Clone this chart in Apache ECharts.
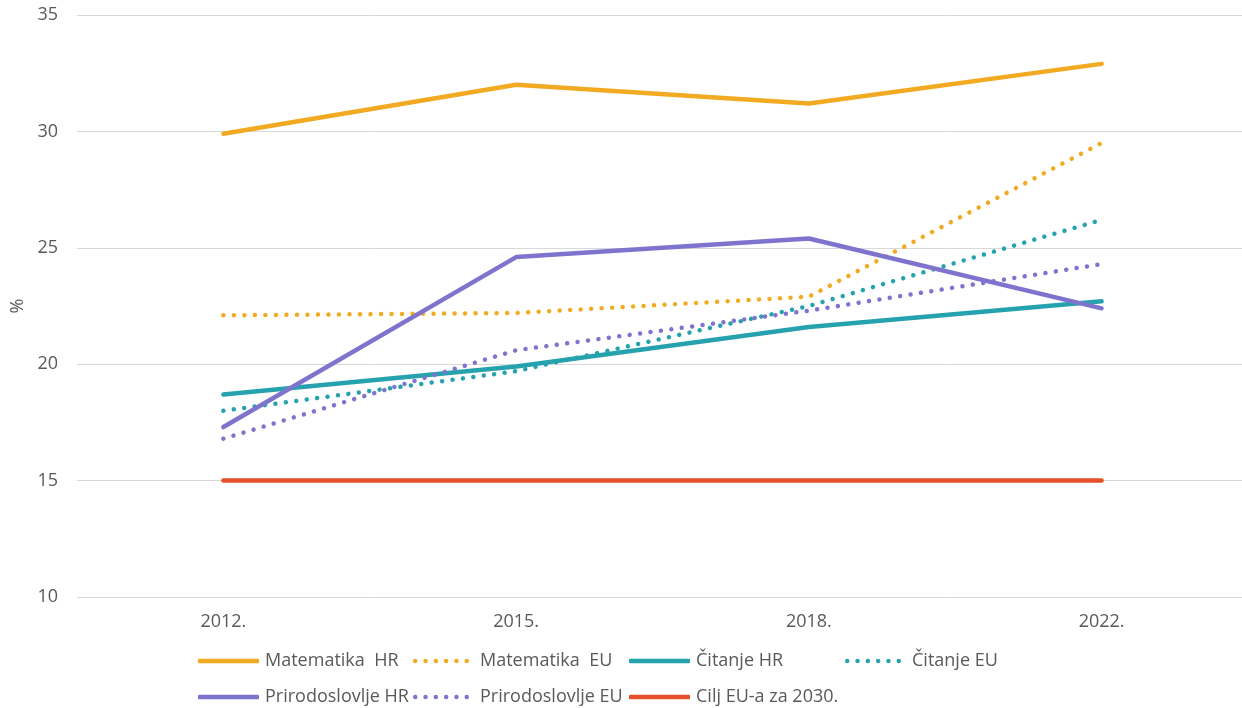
<!DOCTYPE html>
<html>
<head>
<meta charset="utf-8">
<script src="https://cdn.jsdelivr.net/npm/echarts@6/dist/echarts.min.js"></script>
<style>html,body{margin:0;padding:0;background:#fff;overflow:hidden}#c{width:1242px;height:708px}</style>
</head>
<body>
<div id="c"></div>
<script>
const categories = ['2012.', '2015.', '2018.', '2022.'];
const matematikaHR = [29.9, 32.0, 31.2, 32.9];
const matematikaEU = [22.1, 22.2, 22.9, 29.5];
const citanjeHR = [18.7, 19.9, 21.6, 22.7];
const citanjeEU = [18.0, 19.7, 22.5, 26.2];
const prirodoslovljeHR = [17.3, 24.6, 25.4, 22.4];
const prirodoslovljeEU = [16.8, 20.6, 22.3, 24.3];
const ciljEU = [15, 15, 15, 15];
const seriesNames = ['Matematika  HR', 'Matematika  EU', 'Čitanje HR', 'Čitanje EU', 'Prirodoslovlje HR', 'Prirodoslovlje EU', 'Cilj EU-a za 2030.'];

const ORANGE = '#F2AA22', TEAL = '#26A2AF', PURPLE = '#7E74CE', RED = '#E5502A';
const FONT = 'Open Sans';
const TXT = '#595959';
const dotted = [0.01, 10.5];

function dotsPath() {
  const r = 2.25, step = 10.35;
  let d = '';
  for (let k = 0; k < 6; k++) {
    const cx = r + k * step;
    d += 'M' + (cx - r) + ',' + r + ' A' + r + ',' + r + ' 0 1,1 ' + (cx + r) + ',' + r + ' A' + r + ',' + r + ' 0 1,1 ' + (cx - r) + ',' + r + ' Z ';
  }
  return 'path://' + d;
}
const DOTS = dotsPath();

function mk(name, data, color, isDotted) {
  return {
    name, type: 'line', data, symbol: 'none', smooth: false,
    lineStyle: isDotted ? { color, width: 4.5, type: dotted, cap: 'round' } : { color, width: 4.5, cap: 'round', join: 'round' },
    itemStyle: { color },
    emphasis: { disabled: true }
  };
}

// legend layout: [seriesIndex, left, top, dotted]
const legendPos = [
  [0, 198, 652, false], [1, 413, 652, true], [2, 629, 652, false], [3, 845, 652, true],
  [4, 198, 688, false], [5, 413, 688, true], [6, 629, 688, false]
];
const legends = legendPos.map(([i, left, top, isDot]) => ({
  left, top, orient: 'horizontal', selectedMode: false, padding: 0,
  itemWidth: isDot ? 56 : 61, itemHeight: 4.5, itemGap: 0,
  textStyle: { color: TXT, fontFamily: FONT, fontSize: 18, padding: [0, 0, 0, isDot ? 6 : 1] },
  data: [{ name: seriesNames[i], icon: isDot ? DOTS : 'roundRect' }]
}));

const chart = echarts.init(document.getElementById('c'));
chart.setOption({
  animation: false,
  backgroundColor: '#fff',
  grid: { left: 77, width: 1171, top: 15, bottom: 111, outerBoundsMode: 'none', containLabel: false },
  xAxis: {
    type: 'category', data: categories, boundaryGap: true,
    axisLine: { show: false }, axisTick: { show: false },
    axisLabel: { color: TXT, fontFamily: FONT, fontSize: 18, margin: 16 }
  },
  yAxis: {
    type: 'value', min: 10, max: 35, interval: 5,
    name: '%', nameLocation: 'middle', nameGap: 49, nameRotate: 90,
    nameTextStyle: { color: TXT, fontFamily: FONT, fontSize: 18 },
    axisLine: { show: false }, axisTick: { show: false },
    axisLabel: { color: TXT, fontFamily: FONT, fontSize: 18, margin: 19 },
    splitLine: { lineStyle: { color: '#D9D9D9', width: 1 } }
  },
  legend: legends,
  series: [
    mk(seriesNames[0], matematikaHR, ORANGE, false),
    mk(seriesNames[1], matematikaEU, ORANGE, true),
    mk(seriesNames[2], citanjeHR, TEAL, false),
    mk(seriesNames[3], citanjeEU, TEAL, true),
    mk(seriesNames[4], prirodoslovljeHR, PURPLE, false),
    mk(seriesNames[5], prirodoslovljeEU, PURPLE, true),
    mk(seriesNames[6], ciljEU, RED, false)
  ]
});
</script>
</body>
</html>
